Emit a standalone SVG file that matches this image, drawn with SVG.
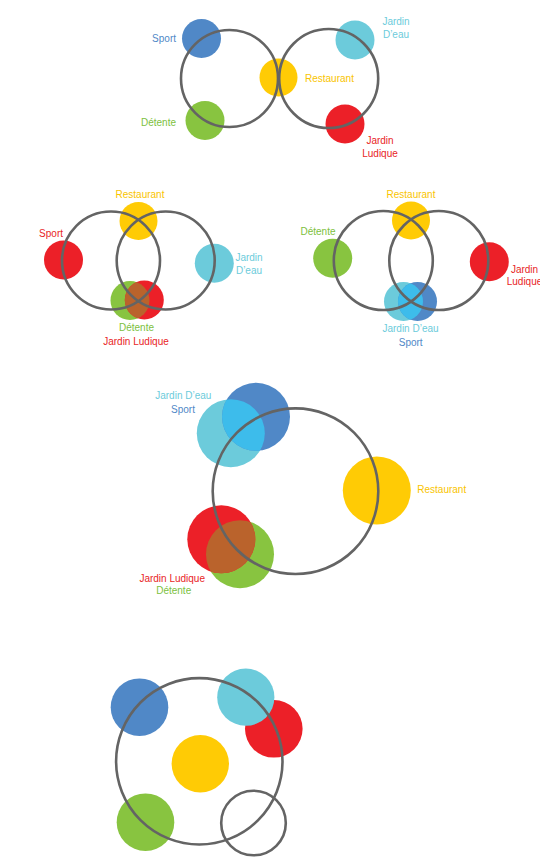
<svg xmlns="http://www.w3.org/2000/svg" width="540" height="860" viewBox="0 0 540 860">
<style>
text{font-family:"Liberation Sans",Arial,sans-serif;font-size:10px}
.ring{fill:none;stroke:#646464;stroke-width:2.6}
.blue{fill:#5088C7}.cyan{fill:#6CCBDB}.yellow{fill:#FFCB05}.green{fill:#88C440}.red{fill:#EC2028}
.ovb{fill:#3DBCEB}.ovr{fill:#BA632C}
.tblue{fill:#5088C7}.tcyan{fill:#6CCBDB}.tyellow{fill:#F9C400}.tgreen{fill:#7DBF3E}.tred{fill:#E81E26}
</style>
<defs>
<clipPath id="c2g"><circle cx="130" cy="300.5" r="19.5"/></clipPath>
<clipPath id="c2b"><circle cx="403.5" cy="301.5" r="19.5"/></clipPath>
<clipPath id="c3b"><circle cx="230.8" cy="433.2" r="34"/></clipPath>
<clipPath id="c3g"><circle cx="240" cy="554.2" r="34"/></clipPath>
</defs>

<!-- Section 1 -->
<g id="s1-sport"><circle class="blue" cx="201.5" cy="38.5" r="19.5"/><text class="tblue" x="176" y="42" text-anchor="end">Sport</text></g>
<g id="s1-detente"><circle class="green" cx="205" cy="120.5" r="19.5"/><text class="tgreen" x="176" y="126" text-anchor="end">Détente</text></g>
<g id="s1-restaurant"><circle class="yellow" cx="278.5" cy="77.5" r="19"/><text class="tyellow" x="305" y="81.5">Restaurant</text></g>
<g id="s1-jardin-deau"><circle class="cyan" cx="355" cy="40" r="19.5"/><text class="tcyan" x="396" y="25" text-anchor="middle">Jardin</text><text class="tcyan" x="396" y="37.5" text-anchor="middle">D’eau</text></g>
<g id="s1-jardin-ludique"><circle class="red" cx="345" cy="124" r="19.5"/><text class="tred" x="380" y="143.5" text-anchor="middle">Jardin</text><text class="tred" x="380" y="156.5" text-anchor="middle">Ludique</text></g>
<g id="s1-rings"><circle class="ring" cx="229.5" cy="78.5" r="48.5"/><circle class="ring" cx="328.7" cy="78.5" r="49.5"/></g>

<!-- Section 2 left -->
<g id="s2a-restaurant"><circle class="yellow" cx="138.5" cy="221" r="19"/><text class="tyellow" x="140" y="197.5" text-anchor="middle">Restaurant</text></g>
<g id="s2a-sport"><circle class="red" cx="63.5" cy="260" r="19.5"/><text class="tred" x="63" y="237" text-anchor="end">Sport</text></g>
<g id="s2a-jardin-deau"><circle class="cyan" cx="214.3" cy="263.3" r="19.5"/><text class="tcyan" x="249" y="261" text-anchor="middle">Jardin</text><text class="tcyan" x="249" y="273.5" text-anchor="middle">D’eau</text></g>
<g id="s2a-detente"><circle class="green" cx="130" cy="300.5" r="19.5"/><text class="tgreen" x="136.5" y="331" text-anchor="middle">Détente</text></g>
<g id="s2a-jardin-ludique"><circle class="red" cx="144.3" cy="300" r="19.5"/><circle class="ovr" clip-path="url(#c2g)" cx="144.3" cy="300" r="19.5"/><text class="tred" x="136" y="344.5" text-anchor="middle">Jardin Ludique</text></g>
<g id="s2a-rings"><circle class="ring" cx="111" cy="260.5" r="49"/><circle class="ring" cx="165.7" cy="260.5" r="49"/></g>

<!-- Section 2 right -->
<g id="s2b-restaurant"><circle class="yellow" cx="411" cy="220.5" r="19"/><text class="tyellow" x="411" y="197.5" text-anchor="middle">Restaurant</text></g>
<g id="s2b-detente"><circle class="green" cx="332.7" cy="258.3" r="19.5"/><text class="tgreen" x="318" y="235" text-anchor="middle">Détente</text></g>
<g id="s2b-jardin-ludique"><circle class="red" cx="489.3" cy="261.7" r="19.5"/><text class="tred" x="524.5" y="272.7" text-anchor="middle">Jardin</text><text class="tred" x="524.5" y="285" text-anchor="middle">Ludique</text></g>
<g id="s2b-jardin-deau"><circle class="cyan" cx="403.5" cy="301.5" r="19.5"/><text class="tcyan" x="410.5" y="331.7" text-anchor="middle">Jardin D’eau</text></g>
<g id="s2b-sport"><circle class="blue" cx="417.5" cy="301.5" r="19.5"/><circle class="ovb" clip-path="url(#c2b)" cx="417.5" cy="301.5" r="19.5"/><text class="tblue" x="410.7" y="345.7" text-anchor="middle">Sport</text></g>
<g id="s2b-rings"><circle class="ring" cx="383.3" cy="260.5" r="49.5"/><circle class="ring" cx="438.8" cy="260.5" r="49.5"/></g>

<!-- Section 3 -->
<g id="s3-jardin-deau"><circle class="cyan" cx="230.8" cy="433.2" r="34"/><text class="tcyan" x="183.3" y="399.3" text-anchor="middle">Jardin D’eau</text></g>
<g id="s3-sport"><circle class="blue" cx="256" cy="416.8" r="34"/><circle class="ovb" clip-path="url(#c3b)" cx="256" cy="416.8" r="34"/><text class="tblue" x="183" y="412.7" text-anchor="middle">Sport</text></g>
<g id="s3-restaurant"><circle class="yellow" cx="376.8" cy="490.5" r="34"/><text class="tyellow" x="417.3" y="492.7">Restaurant</text></g>
<g id="s3-detente"><circle class="green" cx="240" cy="554.2" r="34"/><text class="tgreen" x="173.7" y="594" text-anchor="middle">Détente</text></g>
<g id="s3-jardin-ludique"><circle class="red" cx="221.3" cy="539.3" r="34"/><circle class="ovr" clip-path="url(#c3g)" cx="221.3" cy="539.3" r="34"/><text class="tred" x="172.2" y="582.3" text-anchor="middle">Jardin Ludique</text></g>
<g id="s3-ring"><circle class="ring" cx="295.5" cy="491.2" r="82.8"/></g>

<!-- Section 4 -->
<g id="s4-blue"><circle class="blue" cx="139.5" cy="707.2" r="28.8"/></g>
<g id="s4-red"><circle class="red" cx="273.8" cy="728.8" r="28.8"/></g>
<g id="s4-cyan"><circle class="cyan" cx="245.8" cy="697.2" r="28.6"/></g>
<g id="s4-yellow"><circle class="yellow" cx="200.3" cy="763.7" r="28.7"/></g>
<g id="s4-green"><circle class="green" cx="145.5" cy="822.2" r="28.8"/></g>
<g id="s4-rings"><circle class="ring" cx="199.3" cy="761.3" r="83.2"/><circle class="ring" cx="253.5" cy="823" r="32.3"/></g>
</svg>
